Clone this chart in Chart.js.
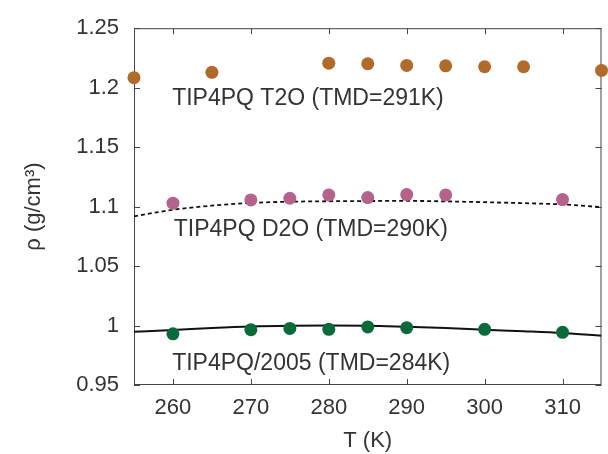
<!DOCTYPE html>
<html>
<head>
<meta charset="utf-8">
<script src="https://cdn.jsdelivr.net/npm/chart.js@4/dist/chart.umd.min.js"></script>
<style>
html, body { margin: 0; padding: 0; background: #fff; }
#wrap { width: 608px; height: 454px; }
</style>
</head>
<body>
<div id="wrap"><canvas id="rho"></canvas></div>
<script>
// simulation points, T in K, density in g/cm3
var t2oT = [255, 265, 280, 285, 290, 295, 300, 305, 315];
var t2oRho = [1.2084, 1.2129, 1.2206, 1.2201, 1.2187, 1.2184, 1.2176, 1.2176, 1.2145];

var d2oT = [260, 270, 275, 280, 285, 290, 295, 310];
var d2oRho = [1.1029, 1.1056, 1.1070, 1.1098, 1.1076, 1.1101, 1.1098, 1.1059];

var h2oT = [260, 270, 275, 280, 285, 290, 300, 310];
var h2oRho = [0.9930, 0.9965, 0.9976, 0.9968, 0.9988, 0.9982, 0.9968, 0.9943];

// fitted curves, every 5 K
var fitT = [255, 260, 265, 270, 275, 280, 285, 290, 295, 300, 305, 310, 315];
var d2oFit = [1.0918, 1.0973, 1.1008, 1.1031, 1.1041, 1.1045, 1.1047, 1.1048, 1.1044, 1.1037, 1.1029, 1.1018, 1.0995];
var h2oFit = [0.9948, 0.9962, 0.9979, 0.9992, 0.9998, 1.0000, 0.9999, 0.9990, 0.9979, 0.9965, 0.9952, 0.9937, 0.9915];

var xTicks = [260, 270, 280, 290, 300, 310];
var yTicks = [0.95, 1, 1.05, 1.1, 1.15, 1.2, 1.25];
var yTickLabels = ['0.95', '1', '1.05', '1.1', '1.15', '1.2', '1.25'];

var labels = ['TIP4PQ T2O (TMD=291K)', 'TIP4PQ D2O (TMD=290K)', 'TIP4PQ/2005 (TMD=284K)'];

function pts(xs, ys) {
  return xs.map(function (x, i) { return { x: x, y: ys[i] }; });
}

var FONT = '"Liberation Sans", Arial, sans-serif';
var INK = '#333';

// frame with inward ticks on all four sides
var frame = {
  id: 'frame',
  beforeDatasetsDraw: function (chart) {
    var c = chart.ctx, a = chart.chartArea;
    var xs = chart.scales.x, ys = chart.scales.y;
    var len = 6;
    c.save();
    c.strokeStyle = '#444';
    c.lineWidth = 1;
    c.strokeRect(a.left + 0.5, a.top + 0.5, a.right - a.left - 1, a.bottom - a.top - 1);
    c.beginPath();
    xTicks.forEach(function (v) {
      var px = Math.round(xs.getPixelForValue(v)) + 0.5;
      c.moveTo(px, a.bottom); c.lineTo(px, a.bottom - len);
      c.moveTo(px, a.top); c.lineTo(px, a.top + len);
    });
    yTicks.forEach(function (v) {
      var py = Math.round(ys.getPixelForValue(v)) + 0.5;
      c.moveTo(a.left, py); c.lineTo(a.left + len, py);
      c.moveTo(a.right, py); c.lineTo(a.right - len, py);
    });
    c.stroke();
    c.restore();
  }
};

// series labels placed in data coordinates
var notes = {
  id: 'notes',
  afterDraw: function (chart) {
    var c = chart.ctx;
    var xs = chart.scales.x, ys = chart.scales.y;
    var spots = [[259.9, 1.191], [260.1, 1.081], [259.9, 0.968]];
    c.save();
    c.font = '23px ' + FONT;
    c.fillStyle = INK;
    c.textAlign = 'left';
    c.textBaseline = 'middle';
    labels.forEach(function (s, i) {
      c.fillText(s, xs.getPixelForValue(spots[i][0]), ys.getPixelForValue(spots[i][1]));
    });
    c.restore();
  }
};

var config = {
  type: 'scatter',
  data: {
    datasets: [
      { label: 'T2O', data: pts(t2oT, t2oRho), backgroundColor: '#b06a29', borderWidth: 0, pointRadius: 6.5, pointHoverRadius: 6.5, clip: false, order: 1 },
      { label: 'D2O', data: pts(d2oT, d2oRho), backgroundColor: '#b5628f', borderWidth: 0, pointRadius: 6.5, pointHoverRadius: 6.5, clip: false, order: 1 },
      { label: 'H2O', data: pts(h2oT, h2oRho), backgroundColor: '#0b6a3a', borderWidth: 0, pointRadius: 6.5, pointHoverRadius: 6.5, clip: false, order: 1 },
      { label: 'D2O fit', data: pts(fitT, d2oFit), showLine: true, cubicInterpolationMode: 'monotone', borderColor: '#111', borderWidth: 1.8, borderDash: [4, 3], pointRadius: 0, order: 2 },
      { label: 'H2O fit', data: pts(fitT, h2oFit), showLine: true, cubicInterpolationMode: 'monotone', borderColor: '#111', borderWidth: 2, pointRadius: 0, order: 2 }
    ]
  },
  options: {
    responsive: true,
    maintainAspectRatio: false,
    animation: false,
    layout: { padding: { top: 24, right: 2, left: 0, bottom: 0 } },
    plugins: {
      legend: { display: false },
      tooltip: { enabled: false }
    },
    scales: {
      x: {
        type: 'linear',
        min: 255,
        max: 315,
        grid: { display: false, drawTicks: false },
        border: { display: false },
        afterBuildTicks: function (s) { s.ticks = xTicks.map(function (v) { return { value: v }; }); },
        afterFit: function (s) { s.height = 69; },
        ticks: { color: INK, font: { family: FONT, size: 22 }, padding: 10, maxRotation: 0 },
        title: { display: true, text: 'T (K)', color: INK, font: { family: FONT, size: 22 }, padding: { top: 0, bottom: 0 } }
      },
      y: {
        type: 'linear',
        min: 0.95,
        max: 1.25,
        grid: { display: false, drawTicks: false },
        border: { display: false },
        afterBuildTicks: function (s) { s.ticks = yTicks.map(function (v) { return { value: v }; }); },
        afterFit: function (s) { s.width = 134; },
        ticks: {
          color: INK, font: { family: FONT, size: 22 }, padding: 15,
          callback: function (v) { return yTickLabels[yTicks.indexOf(v)]; }
        },
        title: { display: true, text: 'ρ (g/cm³)', color: INK, font: { family: FONT, size: 22 }, padding: { top: 21, bottom: 0 } }
      }
    }
  },
  plugins: [frame, notes]
};

window.onload = function () {
  var ctx = document.getElementById('rho').getContext('2d');
  window.rhoChart = new Chart(ctx, config);
};
</script>
</body>
</html>
